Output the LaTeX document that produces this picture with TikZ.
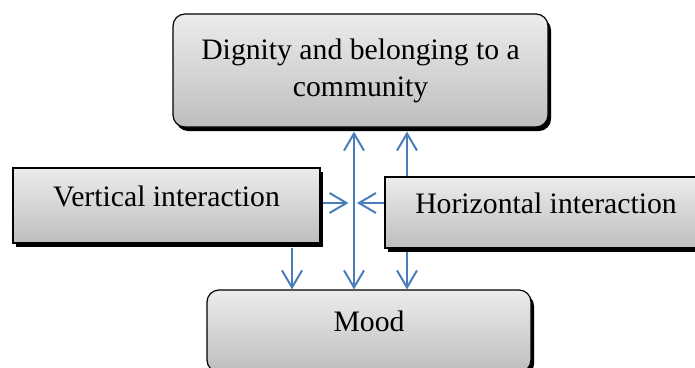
\documentclass[tikz,border=0pt]{standalone}
\usepackage{fontspec}
\setmainfont{Liberation Serif}
\usetikzlibrary{arrows.meta,shadows,backgrounds}
\definecolor{arrowblue}{RGB}{74,126,187}
\definecolor{boxtop}{RGB}{236,236,236}
\definecolor{boxbottom}{RGB}{190,190,190}
\tikzset{
  box/.style={draw=black, line width=1.2pt, top color=boxtop, bottom color=boxbottom,
    drop shadow={shadow xshift=3pt, shadow yshift=-4pt, fill=black, opacity=1},
    inner sep=0pt, font=\fontsize{29.7}{37}\selectfont, align=center},
  roundbox/.style={box, rounded corners=12pt},
  barb/.tip={Straight Barb[length=17pt,width=20pt]},
  conn/.style={draw=arrowblue, line width=2pt, -barb},
  conn2/.style={draw=arrowblue, line width=2pt, barb-barb},
}
\begin{document}
\begin{tikzpicture}[x=1pt,y=-1pt]
\clip (0,0) rectangle (695,367);
\node[roundbox, minimum width=375pt, minimum height=113pt] (top) at (360.5,70.5) {Dignity and belonging to a\\community};
\node[box, minimum width=307pt, minimum height=75pt, text height=20pt, text depth=18pt] (vert) at (166.5,205.5) {Vertical interaction};
\node[box, minimum width=322pt, minimum height=71pt, text height=20pt, text depth=19pt] (horiz) at (546,212.5) {Horizontal interaction};
\node[roundbox, minimum width=324pt, minimum height=82pt, text height=20pt, text depth=20pt] (mood) at (369,331) {Mood};
\coordinate (c1) at (354,0);
\coordinate (c2) at (407,0);
\coordinate (c3) at (292,0);
\coordinate (hy) at (0,203);
\draw[conn2, shorten <=4pt] (top.south -| c1) -- (mood.north -| c1);
\begin{pgfonlayer}{background}
\draw[conn2, shorten <=4pt] (top.south -| c2) -- (mood.north -| c2);
\end{pgfonlayer}
\draw[conn, shorten <=2pt] (vert.east |- hy) -- ([xshift=-5.5pt]c1 |- hy);
\draw[conn, shorten <=4pt] (vert.south -| c3) -- (mood.north -| c3);
\draw[conn] (horiz.west |- hy) -- ([xshift=3pt]c1 |- hy);
\end{tikzpicture}
\end{document}
